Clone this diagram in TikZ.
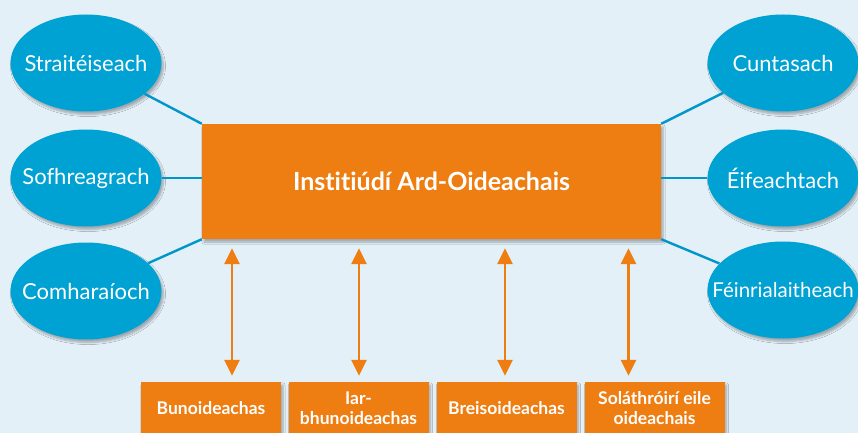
\documentclass[tikz,border=0pt]{standalone}
\usepackage{fontspec}
\setmainfont[Ligatures={NoCommon,NoContextual}]{Lato}
\usepackage{tikz}
\usetikzlibrary{positioning}
\usetikzlibrary{shapes.geometric}
\usetikzlibrary{arrows.meta}
\usetikzlibrary{shadows.blur}

\definecolor{skyback}{HTML}{E3F0F8}
\definecolor{bubbleblue}{HTML}{00A1D3}
\definecolor{linkblue}{HTML}{0096CA}
\definecolor{boxorange}{HTML}{EE7D12}

\newcommand\bubtxt[1]{\makebox[0pt]{#1}}

\tikzset{
  bubble/.style={ellipse,fill=bubbleblue,text=white,inner sep=0pt,
    minimum width=151pt,minimum height=97pt,font=\fontsize{22}{26}\selectfont,
    blur shadow={shadow xshift=2pt,shadow yshift=-3pt,shadow opacity=30,shadow blur steps=6}},
  instbox/.style={rectangle,fill=boxorange,text=white,inner sep=0pt,
    blur shadow={shadow xshift=2pt,shadow yshift=-3pt,shadow opacity=30,shadow blur steps=6}},
  sectorbox/.style={instbox,minimum width=140pt,minimum height=52pt,align=center,
    font=\fontsize{17.5}{20}\selectfont\bfseries},
  link/.style={draw=linkblue,line width=2.4pt},
  flow/.style={draw=boxorange,line width=2.6pt,{Triangle[width=15pt,length=16pt]}-{Triangle[width=15pt,length=16pt]}}
}

\begin{document}
\begin{tikzpicture}[x=1pt,y=-1pt]
  \useasboundingbox (0,0) rectangle (858,433);
  \fill[skyback] (0,0) rectangle (858,433);

  % qualities on the left
  \node at (86,63) [bubble] (strat) {\bubtxt{Straitéiseach}};
  \node at (86,178) [bubble] (sofh) {\bubtxt{Sofhreagrach}};
  \node at (86,291) [bubble] (comh) {\bubtxt{Comharaíoch}};

  % qualities on the right
  \node at (783,63) [bubble] (cunt) {\bubtxt{Cuntasach}};
  \node at (783,178) [bubble] (eif) {\bubtxt{Éifeachtach}};
  \node at (783,290) [bubble] (fein) {\bubtxt{\fontsize{20.5}{24}\selectfont Féinrialaitheach}};

  \node at (431.5,181.5) [instbox,minimum width=459pt,minimum height=115pt,
    font=\fontsize{25}{29}\selectfont\bfseries] (inst) {Institiúdí Ard-Oideachais};

  % sectors below
  \node at (211,408) [sectorbox] (bun) {Bunoideachas};
  \node at (358.5,408) [sectorbox] (iar) {Iar-\\bhunoideachas};
  \node at (506.5,408) [sectorbox] (breis) {Breisoideachas};
  \node at (654.5,408) [sectorbox] (sol) {Soláthróirí eile\\oideachais};

  \draw[link] (strat) -- (inst.north west);
  \draw[link] (sofh.east) -- (sofh.east -| inst.west);
  \draw[link] (comh) -- (inst.south west);
  \draw[link] (cunt) -- (inst.north east);
  \draw[link] (eif.west) -- (eif.west -| inst.east);
  \draw[link] (fein) -- (inst.south east);

  \draw[flow,shorten <=6pt,shorten >=9pt] ([xshift=21pt]bun.north) -- ([xshift=21pt]bun.north |- inst.south);
  \draw[flow,shorten <=6pt,shorten >=9pt] ([xshift=0.5pt]iar.north) -- ([xshift=0.5pt]iar.north |- inst.south);
  \draw[flow,shorten <=6pt,shorten >=9pt] ([xshift=-1.5pt]breis.north) -- ([xshift=-1.5pt]breis.north |- inst.south);
  \draw[flow,shorten <=6pt,shorten >=9pt] ([xshift=-26pt]sol.north) -- ([xshift=-26pt]sol.north |- inst.south);
\end{tikzpicture}
\end{document}
